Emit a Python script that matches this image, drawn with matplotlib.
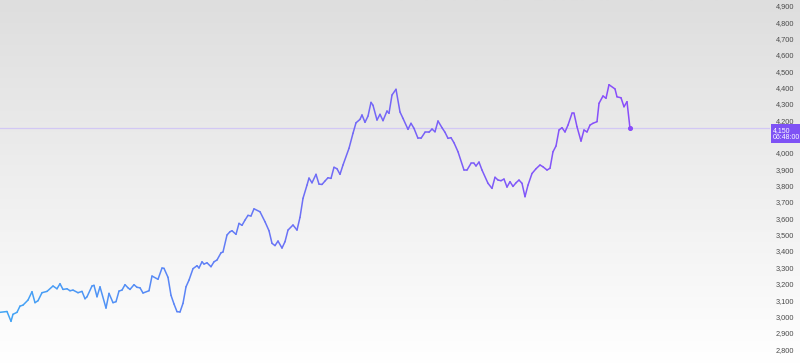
import numpy as np
import matplotlib.pyplot as plt
from matplotlib.collections import LineCollection
from matplotlib.colors import LinearSegmentedColormap

# time position of each sample (arbitrary session units) and price
t = [0, 7, 11, 13, 17, 20, 23, 28, 32, 35, 38, 42, 47, 53, 57, 60, 63, 67, 70, 73,
     78, 82, 85, 87, 92, 94, 97, 100, 106, 109, 113, 116, 119, 122, 125, 128, 130, 134, 137, 140,
     143, 149, 152, 158, 162, 164, 168, 171, 174, 177, 180, 183, 186, 189, 193, 197, 199, 202, 204, 207,
     211, 214, 217, 221, 223, 227, 230, 232, 236, 239, 242, 245, 248, 251, 254, 260, 265, 269, 272, 275,
     278, 282, 285, 288, 293, 297, 300, 303, 307, 309, 312, 316, 319, 322, 325, 328, 331, 334, 337, 340,
     343, 349, 353, 356, 360, 362, 365, 368, 371, 373, 377, 380, 383, 387, 389, 392, 396, 400, 403, 408,
     411, 414, 418, 421, 425, 429, 432, 435, 438, 442, 445, 448, 451, 454, 458, 464, 467, 471, 474, 476,
     479, 482, 488, 492, 495, 498, 501, 504, 507, 510, 513, 516, 519, 522, 525, 528, 532, 536, 540, 543,
     547, 550, 553, 556, 559, 562, 565, 568, 572, 574, 577, 581, 584, 587, 590, 593, 597, 599, 603, 606,
     609, 615, 617, 621, 624, 627, 630]

price = [3025, 3030, 2970, 3013, 3025, 3063, 3069, 3100, 3151, 3084, 3096, 3145, 3153, 3186, 3169, 3200, 3165, 3169, 3157, 3161,
         3145, 3153, 3108, 3120, 3186, 3190, 3120, 3181, 3051, 3141, 3084, 3090, 3155, 3161, 3194, 3175, 3165, 3194, 3178, 3175,
         3143, 3157, 3247, 3227, 3296, 3294, 3239, 3129, 3076, 3029, 3027, 3080, 3181, 3222, 3292, 3310, 3296, 3334, 3320, 3328,
         3304, 3334, 3345, 3389, 3394, 3498, 3518, 3524, 3502, 3569, 3557, 3589, 3618, 3614, 3658, 3640, 3579, 3524, 3447, 3433,
         3461, 3418, 3457, 3528, 3559, 3528, 3606, 3722, 3803, 3846, 3817, 3869, 3809, 3807, 3828, 3848, 3844, 3912, 3903, 3869,
         3926, 4028, 4120, 4184, 4205, 4232, 4187, 4225, 4309, 4291, 4201, 4236, 4197, 4256, 4242, 4354, 4389, 4250, 4211, 4144,
         4181, 4150, 4089, 4089, 4126, 4126, 4146, 4129, 4195, 4154, 4126, 4089, 4093, 4062, 4007, 3895, 3895, 3936, 3936, 3920,
         3944, 3895, 3814, 3783, 3851, 3834, 3830, 3840, 3791, 3824, 3795, 3817, 3834, 3814, 3732, 3803, 3874, 3903, 3926, 3915,
         3895, 3906, 4007, 4042, 4140, 4154, 4128, 4170, 4242, 4242, 4160, 4072, 4140, 4128, 4170, 4181, 4191, 4303, 4348, 4334,
         4417, 4391, 4343, 4337, 4282, 4313, 4150]

last_price = 4150
last_time = "06:48:00"
yticks = [v for v in range(2800, 5000, 100) if v != 4100]

plt.rcParams['font.family'] = ['Liberation Sans', 'DejaVu Sans']

fig = plt.figure(figsize=(8, 3.64), dpi=100)

# background gradient, grey at top fading to white
bg = fig.add_axes([0, 0, 1, 1])
grad = np.linspace(0, 1, 256).reshape(-1, 1)
bg_cmap = LinearSegmentedColormap.from_list("bg", ["#dedede", "#ffffff"])
bg.imshow(grad, aspect="auto", cmap=bg_cmap, extent=[0, 1, 0, 1])
bg.axis("off")

ax = fig.add_axes([0, 0, 770 / 800, 1])
ax.patch.set_alpha(0)
ax.set_xlim(0, 770)
ax.set_ylim(2709, 4935)

# line coloured from blue to purple along the time axis
pts = np.column_stack([t, price])
segs = np.stack([pts[:-1], pts[1:]], axis=1)
line_cmap = LinearSegmentedColormap.from_list("ln", ["#42a5f5", "#6f6cf6", "#8a4dfa"])
lc = LineCollection(segs, cmap=line_cmap, linewidth=1.1, capstyle="round", joinstyle="round")
lc.set_array(np.array(t[:-1], dtype=float))
lc.set_clim(0, t[-1])
ax.add_collection(lc)

ax.axhline(last_price, color="#d2c8f5", linewidth=0.9, zorder=1)
ax.scatter([t[-1]], [price[-1]], s=7, color="#8a4dfa", zorder=3)

for s in ax.spines.values():
    s.set_visible(False)
ax.set_xticks([])
ax.yaxis.tick_right()
ax.set_yticks(yticks)
ax.set_yticklabels([f"{v:,}" for v in yticks])
ax.tick_params(axis="y", length=0, pad=4, labelsize=5.3, labelcolor="#4a4a4a")

# last price label box, top edge just above the price line
ax.annotate(f"{last_price:,}\n{last_time}", xy=(1.004, last_price), xycoords=ax.get_yaxis_transform(),
            xytext=(0, 1.3), textcoords="offset points",
            ha="left", va="top", fontsize=5, color="white", linespacing=1.05,
            bbox=dict(boxstyle="square,pad=0.3", facecolor="#7e52f5", edgecolor="none"),
            annotation_clip=False, zorder=5)

fig.savefig("out.png", dpi=100)
